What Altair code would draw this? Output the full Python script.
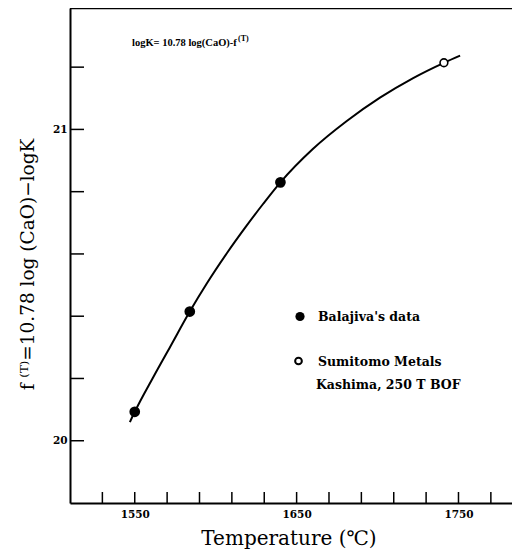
import altair as alt
import pandas as pd

# ---- data ----
balajiva_T = [1550, 1584, 1640]
balajiva_f = [20.093, 20.415, 20.830]
sumitomo_T = [1741]
sumitomo_f = [21.214]
curve_T = [1547, 1550, 1561.5, 1572, 1584, 1594.5, 1607, 1619, 1629.5, 1640,
           1660, 1681, 1701.5, 1722, 1741, 1751]
curve_f = [20.060, 20.093, 20.205, 20.303, 20.415, 20.505, 20.603, 20.690, 20.762, 20.830,
           20.937, 21.027, 21.102, 21.165, 21.214, 21.237]
x_ticks = [1530, 1550, 1570, 1590, 1610, 1630, 1650, 1670, 1690, 1710, 1730, 1750, 1770]
x_labels = [1550, 1650, 1750]
y_ticks = [20.0, 20.2, 20.4, 20.6, 20.8, 21.0, 21.2]
y_labels = [20, 21]

W, H = 442, 495
FONT = "DejaVu Serif"

xs = alt.Scale(domain=[1510, 1783.06], nice=False, zero=False)
ys = alt.Scale(domain=[19.8, 21.39], nice=False, zero=False)

x_axis = alt.Axis(
    values=x_labels, format="d", ticks=False, grid=False,
    domainColor="black", domainWidth=2,
    labelFont=FONT, labelFontWeight="bold", labelFontSize=10.5, labelColor="black",
    labelPadding=6,
    title="Temperature (\u2103)", titleFont=FONT, titleFontSize=20, titleFontWeight="normal",
    titleColor="black", titleX=218.5, titleY=41.5, titleBaseline="alphabetic", titleAlign="center")
y_axis = alt.Axis(
    values=y_labels, format="d", ticks=False, grid=False,
    domainColor="black", domainWidth=2,
    labelFont=FONT, labelFontWeight="bold", labelFontSize=10.5, labelColor="black",
    labelPadding=3,
    title="f \u207d\u1d40\u207e=10.78 log (CaO)\u2212logK", titleFont=FONT, titleFontSize=18.5,
    titleFontWeight="normal", titleColor="black",
    titleX=-37, titleY=256, titleAngle=270, titleBaseline="alphabetic", titleAlign="center")

X = alt.X("T:Q", scale=xs, axis=x_axis)
Y = alt.Y("f:Q", scale=ys, axis=y_axis)

curve_df = pd.DataFrame({"T": curve_T, "f": curve_f})
bal_df = pd.DataFrame({"T": balajiva_T, "f": balajiva_f})
sum_df = pd.DataFrame({"T": sumitomo_T, "f": sumitomo_f})

curve = alt.Chart(curve_df).mark_line(color="black", strokeWidth=2, interpolate="monotone").encode(x=X, y=Y)

xtick = alt.Chart(pd.DataFrame({"T": x_ticks})).mark_rule(color="black", strokeWidth=1.5).encode(
    x=X, y=alt.value(H), y2=alt.value(H - 11))
ytick = alt.Chart(pd.DataFrame({"f": y_ticks})).mark_rule(color="black", strokeWidth=1.5).encode(
    y=Y, x=alt.value(0), x2=alt.value(14))

one = pd.DataFrame({"a": [0]})
top_line = alt.Chart(one).mark_rule(color="black", strokeWidth=1.3).encode(
    x=alt.value(0), x2=alt.value(W), y=alt.value(0.7))

bal = alt.Chart(bal_df).mark_point(shape="circle", filled=True, color="black", size=115, opacity=1).encode(
    x=X, y=Y)
sumi = alt.Chart(sum_df).mark_point(shape="circle", filled=True, fill="white", stroke="black",
                                    strokeWidth=1.6, size=60, opacity=1).encode(x=X, y=Y)

leg_fill = alt.Chart(one).mark_point(shape="circle", filled=True, color="black", size=85, opacity=1).encode(
    x=alt.value(230), y=alt.value(308.5))
leg_open = alt.Chart(one).mark_point(shape="circle", filled=True, fill="white", stroke="black",
                                     strokeWidth=2, size=45, opacity=1).encode(
    x=alt.value(228.5), y=alt.value(353))

def label(text, x, y, size=12.5, align="left", font=FONT):
    return alt.Chart(one).mark_text(text=text, font=font, fontSize=size, fontWeight="bold",
                                    color="black", align=align, baseline="alphabetic").encode(
        x=alt.value(x), y=alt.value(y))

texts = [
    label("Balajiva's data", 248, 313),
    label("Sumitomo Metals", 248, 358),
    label("Kashima, 250 T BOF", 246, 381),
    label("logK= 10.78 log(CaO)-f", 62, 38, size=10.5, font="Liberation Serif"),
    label("(T)", 168, 33, size=8, font="Liberation Serif"),
]

chart = alt.layer(curve, xtick, ytick, top_line, bal, sumi, leg_fill, leg_open, *texts).properties(
    width=W, height=H,
    autosize=alt.AutoSizeParams(type="none"),
    padding={"left": 62, "top": 0, "right": 0, "bottom": 48},
).configure_view(stroke=None).configure(background="white")

chart.save("out.html", embed_options={"renderer": "svg", "actions": False})
